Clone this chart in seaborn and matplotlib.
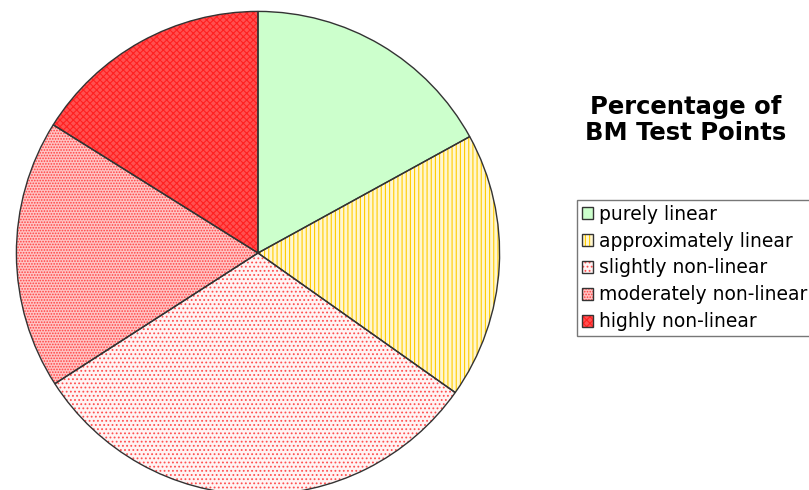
import matplotlib
matplotlib.use("Agg")
import matplotlib.pyplot as plt
import seaborn as sns
from matplotlib.legend_handler import HandlerTuple

sns.set_theme(style="white")
plt.rcParams['font.family'] = ['DejaVu Sans']
plt.rcParams['text.color'] = 'black'
plt.rcParams['hatch.linewidth'] = 0.8

# share of test points per category
categories = ["purely linear", "approximately linear", "slightly non-linear",
              "moderately non-linear", "highly non-linear"]
shares = [17.0, 17.8, 31.1, 18.0, 16.1]
face_colors = ["#CCFFCC", "#FFF6D0", "#FFF4F4", "#FFC4C4", "#FF5050"]
hatch_colors = ["#CCFFCC", "#FFCC00", "#FF5050", "#FF4040", "#FF2020"]
hatches = ["", "||||", "....", "......", "xxxxx"]

fig = plt.figure(figsize=(8.09, 4.90), dpi=100)
ax = fig.add_axes([14 / 809, -7 / 490, 488 / 809, 488 / 490])

# filled, hatched wedges
wedges, _ = ax.pie(shares, startangle=90, counterclock=False, radius=1,
                   colors=face_colors, wedgeprops=dict(linewidth=0))
for w, h, hc in zip(wedges, hatches, hatch_colors):
    w.set_hatch(h)
    w.set_edgecolor(hc)

# outlines on top
outl, _ = ax.pie(shares, startangle=90, counterclock=False, radius=1,
                 colors=["none"] * len(shares),
                 wedgeprops=dict(linewidth=1, edgecolor="#333333"))
ax.set_xlim(-1.01, 1.01)
ax.set_ylim(-1.01, 1.01)
ax.set_aspect("equal")
ax.axis("off")

fig.text(686 / 809, 1 - 120 / 490, "Percentage of\nBM Test Points",
         ha="center", va="center", fontsize=17.5, fontweight="bold",
         linespacing=1.1, color="black")

leg = fig.legend(list(zip(wedges, outl)), categories, loc="upper left",
                 handler_map={tuple: HandlerTuple(ndivide=1)},
                 bbox_to_anchor=(577 / 809, 1 - 200 / 490),
                 fontsize=13.5, frameon=True, fancybox=False, shadow=False,
                 handlelength=0.6, handleheight=0.6, handletextpad=0.3,
                 labelspacing=0.42, borderpad=0.25, borderaxespad=0)
leg.get_frame().set_edgecolor("#555555")
leg.get_frame().set_linewidth(1)
for t in leg.get_texts():
    t.set_color("black")

fig.savefig("out.png", dpi=100)
